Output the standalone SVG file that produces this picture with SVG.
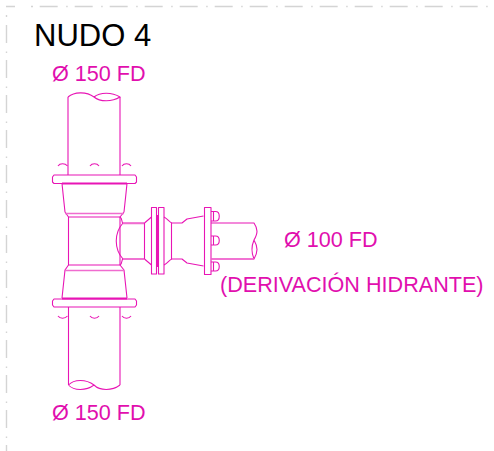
<svg xmlns="http://www.w3.org/2000/svg" width="494" height="451" viewBox="0 0 494 451">
<style>
.l{fill:none;stroke:#e815b5;stroke-width:1.1;stroke-linejoin:round}
.m{fill:none;stroke:#f06ccf;stroke-width:1.4}
.h{fill:none;stroke:#e815b5;stroke-width:2}
.b{fill:none;stroke:#d4d4d4;stroke-width:1.4;stroke-dasharray:18 8.500 1.500 7}
.s{fill:none;stroke:#d4d4d4;stroke-width:1.4}
text{font-family:"Liberation Sans",Arial,sans-serif;fill:#e10fae;font-size:21.6px}
</style>
<rect width="494" height="451" fill="#fff"/>
<g id="border">
<path class="b" d="M39.700 6.500H494"/>
<path class="s" d="M6 6.500H15M31 6.500H33"/>
<path class="b" d="M6.500 25V451"/>
<path class="s" d="M6.500 15V17"/>
</g>
<g id="fitting">
<path class="l" d="M68 97V175M120 97V175"/>
<path class="l" d="M68 97C74 92 86 91 94 97C100 102 112 102 120 97C112 92 100 92 94 97"/>
<path class="l" d="M58 166C60 163 65 163 67.500 166M90 166C92 163 97 163 99 166M122 166C124 163 129 163 131 166"/>
<path class="l" d="M54 175H135L136.500 177V182L135 183.500H54L52.500 182V177Z"/>
<path class="h" d="M62 183.500H127"/>
<path class="l" d="M62 183.500L63.500 198L65 212L68.500 217V265L65 270L62 298M127 183.500L125.500 198L124 212L120 217V265L124 270L127 298"/>
<path class="m" d="M65 213.500H124M65 270.500H124"/>
<path class="l" d="M68.500 217H120M68.500 265H120"/>
<path class="h" d="M62 298.500H127"/>
<path class="l" d="M54 299H135L136.500 301V305L135 307H54L52.500 305V301Z"/>
<path class="l" d="M58 316C60 319 65 319 67.500 316M90 316C92 319 97 319 99 316M122 316C124 319 129 319 131 316"/>
<path class="l" d="M68.500 307V385M120 307V385"/>
<path class="l" d="M68.500 385C74 379 86 379 94 385C100 391 112 391 120 385M68.500 385C74 391 86 391 94 385"/>
</g>
<g id="branch">
<path class="l" d="M120 217C123 219 121 222 123 223H144.500M123 259H144.500M123 259C121 260 123 263 120 265"/>
<path class="l" d="M123 223C114 233 114 249 123 259"/>
<path class="m" d="M123 223.500H144M123 259H144"/>
<path class="l" d="M144.500 223V259M151.500 217L144.500 223M151.500 265L144.500 259"/>
<rect class="l" x="151.500" y="207.500" width="5" height="66.500"/>
<rect class="l" x="158.500" y="207.500" width="5.500" height="66.500"/>
<path class="h" d="M157.500 215V267"/>
<path class="l" d="M164 217C168 219 169 222 172 223H182L187 219L203.500 216M164 265C168 263 169 260 172 259H182L187 263L203.500 266M171.500 223V259"/>
<rect class="l" x="204.500" y="207.500" width="6.500" height="67"/>
<path class="l" d="M211 223H254C258 229 258 233 254 240C251 247 251 252 254 259H211M254 240C258 247 258 252 254 259"/>
<path class="m" d="M211 259H254"/>
<path class="l" d="M211 211.500H215.500C220.500 211.500 220.500 221 215.500 221H211M213.500 211.500V221"/>
<path class="l" d="M211 236H215.500C220.500 236 220.500 245 215.500 245H211M213.500 236V245"/>
<path class="l" d="M211 262H215.500C220.500 262 220.500 271 215.500 271H211M213.500 262V271"/>
</g>
<text x="34" y="46" style="font-size:31px;fill:#000">NUDO 4</text>
<text x="52" y="81">Ø 150 FD</text>
<text x="284" y="247">Ø 100 FD</text>
<text x="220" y="292">(DERIVACIÓN HIDRANTE)</text>
<text x="52" y="420">Ø 150 FD</text>
</svg>
